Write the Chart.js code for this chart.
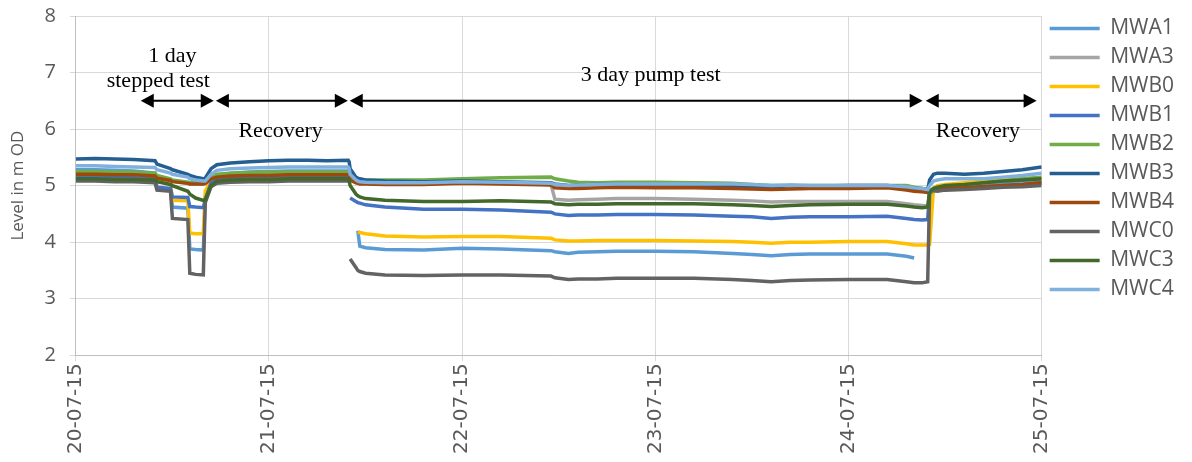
<!DOCTYPE html>
<html><head><meta charset="utf-8">
<script src="https://cdn.jsdelivr.net/npm/chart.js@4.4.0/dist/chart.umd.min.js"></script>
<style>html,body{margin:0;padding:0;background:#fff;}#wrap{width:1192px;height:462px;}</style>
</head><body><div id="wrap"><canvas id="c" width="1192" height="462"></canvas></div>
<script>
// time in days since 20-07-15 00:00
const days = [0,0.1,0.2,0.3,0.41,0.42,0.49,0.5,0.58,0.59,0.62,0.66,0.67,0.7,0.73,0.8,0.9,1.0,1.1,1.2,1.3,1.41,1.415,1.42,1.45,1.46,1.47,1.5,1.6,1.8,2.0,2.2,2.46,2.48,2.55,2.6,2.7,2.8,3.0,3.2,3.4,3.5,3.6,3.7,3.8,4.0,4.2,4.3,4.34,4.38,4.41,4.42,4.44,4.46,4.5,4.6,4.7,4.8,4.9,5.0];
const xTickLabels = ['20-07-15','21-07-15','22-07-15','23-07-15','24-07-15','25-07-15'];
const seriesNames = ['MWA1','MWA3','MWB0','MWB1','MWB2','MWB3','MWB4','MWC0','MWC3','MWC4'];
const seriesColors = ['#5B9BD5','#A5A5A5','#FFC000','#4472C4','#70AD47','#255E91','#9E480E','#636363','#43682B','#7FB0DE'];

const MWA1 = [5.28,5.28,5.27,5.26,5.22,4.95,4.93,4.62,4.6,3.88,3.87,3.86,4.8,5.1,5.18,5.22,5.24,5.25,5.26,5.26,5.26,5.26,
  null,null,null,4.2,3.93,3.9,3.87,3.86,3.89,3.88,3.85,3.83,3.8,3.82,3.83,3.84,3.84,3.83,3.8,3.78,3.76,3.78,3.79,3.79,3.79,3.75,3.72,null,null,null,4.95,4.97,5.0,5.0,5.02,5.05,5.08,5.1];
const MWA3 = [5.22,5.22,5.21,5.21,5.19,5.15,5.1,5.08,5.04,5.03,5.03,5.03,5.04,5.12,5.17,5.19,5.2,5.21,5.21,5.21,5.21,5.21,
  5.19,5.12,5.06,5.05,5.05,5.04,5.03,5.03,5.05,5.04,5.02,4.76,4.74,4.75,4.76,4.77,4.77,4.76,4.74,4.73,4.71,4.72,4.72,4.72,4.72,4.68,4.66,4.65,4.64,4.85,4.9,4.92,4.95,4.95,4.98,5.0,5.02,5.05];
const MWB0 = [5.18,5.18,5.17,5.17,5.15,5.08,5.05,4.74,4.73,4.16,4.15,4.15,4.9,5.1,5.15,5.16,5.17,5.17,5.18,5.18,5.18,5.18,
  null,null,null,4.18,4.17,4.15,4.11,4.09,4.1,4.1,4.07,4.04,4.02,4.02,4.03,4.03,4.03,4.02,4.01,4.0,3.98,4.0,4.0,4.01,4.01,3.97,3.95,3.95,3.95,3.96,4.95,5.0,5.02,5.05,5.08,5.1,5.12,5.14];
const MWB1 = [5.15,5.15,5.14,5.14,5.12,4.97,4.95,4.8,4.79,4.63,4.62,4.61,4.75,5.05,5.1,5.12,5.13,5.13,5.14,5.14,5.14,5.14,
  null,4.78,4.72,4.7,4.69,4.66,4.62,4.58,4.58,4.57,4.53,4.5,4.47,4.48,4.48,4.49,4.49,4.48,4.46,4.45,4.42,4.44,4.45,4.45,4.46,4.42,4.4,4.39,4.4,4.88,4.9,4.93,4.95,4.96,4.98,5.0,5.02,5.05];
const MWB2 = [5.25,5.25,5.24,5.24,5.22,5.18,5.12,5.1,5.06,5.05,5.05,5.05,5.05,5.15,5.2,5.22,5.23,5.24,5.24,5.24,5.24,5.24,
  5.22,5.15,5.1,5.1,5.1,5.1,5.1,5.1,5.12,5.14,5.15,5.12,5.08,5.06,5.05,5.06,5.06,5.05,5.04,5.02,5.0,5.0,5.0,5.0,5.0,5.0,4.97,4.95,4.93,4.92,4.9,4.92,4.95,5.0,5.05,5.08,5.12,5.15];
const MWB3 = [5.47,5.48,5.47,5.46,5.44,5.38,5.3,5.28,5.2,5.18,5.15,5.12,5.13,5.3,5.37,5.4,5.42,5.44,5.45,5.45,5.44,5.45,
  5.42,5.3,5.15,5.13,5.12,5.1,5.08,5.07,5.08,5.07,5.05,5.03,5.0,5.01,5.02,5.02,5.01,5.0,4.99,4.98,4.97,5.0,4.99,5.0,5.0,4.97,4.95,4.95,4.93,5.1,5.2,5.22,5.22,5.2,5.22,5.25,5.28,5.33];
const MWB4 = [5.2,5.2,5.19,5.19,5.17,5.13,5.09,5.07,5.04,5.03,5.03,5.03,5.04,5.12,5.15,5.17,5.18,5.18,5.19,5.19,5.19,5.19,
  5.17,5.1,5.05,5.04,5.03,5.03,5.02,5.02,5.04,5.03,5.01,4.96,4.95,4.95,4.96,4.97,4.96,4.96,4.95,4.94,4.93,4.94,4.95,4.95,4.96,4.92,4.9,4.89,4.88,4.9,4.92,4.95,4.95,4.96,4.98,5.0,5.02,5.05];
const MWC0 = [5.08,5.08,5.07,5.07,5.05,4.92,4.9,4.42,4.4,3.45,3.43,3.42,4.7,4.98,5.04,5.06,5.07,5.07,5.08,5.08,5.08,5.08,
  null,3.7,3.55,3.5,3.48,3.45,3.42,3.41,3.42,3.42,3.4,3.37,3.34,3.35,3.35,3.36,3.36,3.36,3.34,3.32,3.3,3.32,3.33,3.34,3.34,3.3,3.28,3.28,3.3,4.9,4.92,4.9,4.92,4.93,4.95,4.97,4.98,5.0];
const MWC3 = [5.12,5.12,5.11,5.11,5.1,5.07,5.02,5.0,4.9,4.85,4.78,4.74,4.75,5.0,5.08,5.1,5.11,5.11,5.12,5.12,5.12,5.12,
  5.08,5.0,4.85,4.82,4.8,4.77,4.74,4.72,4.72,4.73,4.71,4.68,4.66,4.67,4.67,4.68,4.68,4.68,4.66,4.65,4.63,4.65,4.66,4.67,4.67,4.64,4.62,4.61,4.62,4.9,4.95,4.97,5.0,5.02,5.05,5.08,5.1,5.12];
const MWC4 = [5.35,5.35,5.34,5.33,5.32,5.28,5.22,5.2,5.15,5.12,5.1,5.08,5.08,5.2,5.27,5.3,5.31,5.32,5.33,5.33,5.33,5.33,
  5.3,5.2,5.1,5.08,5.07,5.06,5.05,5.05,5.07,5.06,5.04,5.02,5.0,5.01,5.02,5.03,5.03,5.03,5.03,5.02,5.0,5.01,5.0,5.0,5.0,4.98,4.96,4.95,4.93,5.0,5.08,5.1,5.12,5.12,5.12,5.15,5.18,5.22];

const seriesValues = [MWA1,MWA3,MWB0,MWB1,MWB2,MWB3,MWB4,MWC0,MWC3,MWC4];

// annotation texts and arrow spans (days)
const arrowSpans = [[0.336,0.714],[0.725,1.408],[1.418,4.384],[4.40,4.974]];
const annoTexts = [
  {text:'1 day', x:0.50, y:7.28},
  {text:'stepped test', x:0.427, y:6.85},
  {text:'Recovery', x:1.06, y:5.96},
  {text:'3 day pump test', x:2.976, y:6.96},
  {text:'Recovery', x:4.67, y:5.96}
];
const arrowLevel = 6.5;

const annoPlugin = {
  id:'anno',
  afterDatasetsDraw(chart){
    const ctx = chart.ctx, xs = chart.scales.x, ys = chart.scales.y;
    ctx.save();
    ctx.fillStyle = '#000'; ctx.strokeStyle = '#000'; ctx.lineWidth = 2;
    const yy = ys.getPixelForValue(arrowLevel);
    const head = 13, hh = 7;
    arrowSpans.forEach(([a,b])=>{
      const x1 = xs.getPixelForValue(a), x2 = xs.getPixelForValue(b);
      ctx.beginPath(); ctx.moveTo(x1+head-1,yy); ctx.lineTo(x2-head+1,yy); ctx.stroke();
      ctx.beginPath(); ctx.moveTo(x1,yy); ctx.lineTo(x1+head,yy-hh); ctx.lineTo(x1+head,yy+hh); ctx.closePath(); ctx.fill();
      ctx.beginPath(); ctx.moveTo(x2,yy); ctx.lineTo(x2-head,yy-hh); ctx.lineTo(x2-head,yy+hh); ctx.closePath(); ctx.fill();
    });
    ctx.font = '22px "Liberation Serif", "Times New Roman", serif';
    ctx.textAlign = 'center'; ctx.textBaseline = 'middle';
    annoTexts.forEach(t=>{
      ctx.fillText(t.text, xs.getPixelForValue(t.x), ys.getPixelForValue(t.y));
    });
    ctx.restore();
  }
};

const datasets = seriesNames.map((name,i)=>({
  label:name,
  data: days.map((d,j)=>({x:d, y:seriesValues[i][j]})),
  borderColor: seriesColors[i],
  backgroundColor: seriesColors[i],
  borderWidth: 3.5,
  pointRadius: 0,
  tension: 0,
  spanGaps: false,
  order: seriesNames.length - i
}));

new Chart(document.getElementById('c'), {
  type:'line',
  data:{datasets},
  plugins:[annoPlugin],
  options:{
    responsive:false,
    animation:false,
    devicePixelRatio:1,
    layout:{padding:{top:10,left:8,right:8,bottom:6}},
    plugins:{
      tooltip:{enabled:false},
      legend:{
        position:'right',
        align:'start',
        labels:{
          usePointStyle:true,
          pointStyle:'line',
          pointStyleWidth:50,
          boxHeight:18,
          color:'#595959',
          font:{family:'"Open Sans", sans-serif', size:21},
          padding:8,
          sort:(a,b)=>a.datasetIndex-b.datasetIndex
        }
      }
    },
    scales:{
      x:{
        type:'linear', min:0, max:5,
        ticks:{stepSize:1, autoSkip:false, maxRotation:90, minRotation:90, padding:2,
          color:'#595959', font:{family:'"DejaVu Sans", sans-serif', size:20},
          callback:(v)=>xTickLabels[v]},
        grid:{color:'#d9d9d9', tickLength:6},
        border:{color:'#bfbfbf'}
      },
      y:{
        min:2, max:8,
        afterFit:(s)=>{ s.paddingTop = 16; },
        ticks:{stepSize:1, color:'#595959', font:{family:'"Open Sans", sans-serif', size:20}, padding:14},
        grid:{color:'#d9d9d9', tickLength:6},
        border:{color:'#bfbfbf'},
        title:{display:true, text:'Level in m OD', color:'#595959', font:{family:'"Open Sans", sans-serif', size:17}, padding:{top:0,bottom:2}}
      }
    }
  }
});
</script></body></html>
